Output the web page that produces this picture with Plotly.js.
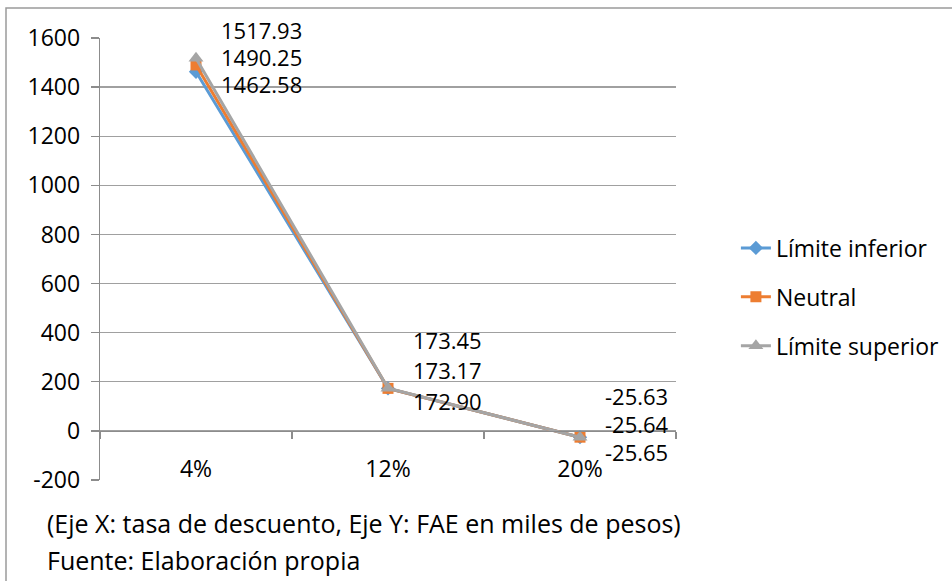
<!DOCTYPE html>
<html>
<head>
<meta charset="utf-8">
<script src="https://cdn.plot.ly/plotly-3.0.1.min.js"></script>
<style>html,body{margin:0;padding:0;background:#fff;}#chart{width:952px;height:581px;}</style>
</head>
<body>
<div id="chart"></div>
<script>
// ---- data ----
const categories = ["4%", "12%", "20%"];
const seriesNames = ["Límite inferior", "Neutral", "Límite superior"];
const limiteInferior = [1462.58, 172.90, -25.65];
const neutral = [1490.25, 173.17, -25.64];
const limiteSuperior = [1517.93, 173.45, -25.63];
const yTickValues = [-200, 0, 200, 400, 600, 800, 1000, 1200, 1400, 1600];
const noteLines = ["(Eje X: tasa de descuento, Eje Y: FAE en miles de pesos)", "Fuente: Elaboración propia"];

// ---- styles ----
const FONT = "'Open Sans', Carlito, Lato, sans-serif";
const FS = 23;
const FS_LABEL = 22;
const FS_NOTE = 25;
const colors = ["#5B9BD5", "#ED7D31", "#A5A5A5"];
const symbols = ["diamond", "square", "triangle-up"];
const msizes = [11, 11, 13];
// label pixel offsets per series per point (vertical)
const labelYShift = [[-12, -13, -15], [8, 18, 13], [28, 48, 41]];
const labelXShift = 24;

const allSeries = [limiteInferior, neutral, limiteSuperior];
const traces = allSeries.map((vals, i) => ({
  type: "scatter", mode: "lines+markers",
  x: categories, y: vals, name: seriesNames[i],
  legendgroup: "g" + i,
  line: {color: colors[i], width: 3},
  marker: {symbol: symbols[i], size: msizes[i], color: colors[i]},
  cliponaxis: false
}));

const annotations = [];
allSeries.forEach((vals, i) => {
  vals.forEach((v, j) => {
    annotations.push({
      x: categories[j], y: v, xref: "x", yref: "y",
      text: v.toFixed(2), showarrow: false,
      xanchor: "left", yanchor: "middle", borderpad: 0,
      xshift: labelXShift, yshift: labelYShift[i][j],
      font: {family: FONT, size: FS_LABEL, color: "#000"}
    });
  });
});
noteLines.forEach((t, k) => {
  annotations.push({
    x: -0.0955, y: k === 0 ? -0.097 : -0.181, xref: "paper", yref: "paper",
    text: t, showarrow: false, xanchor: "left", yanchor: "middle",
    font: {family: FONT, size: FS_NOTE, color: "#000"}
  });
});

const layout = {
  width: 952, height: 581,
  margin: {l: 100, r: 276, t: 38, b: 101, pad: 0, autoexpand: false},
  paper_bgcolor: "#fff", plot_bgcolor: "#fff",
  font: {family: FONT, size: FS, color: "#000"},
  showlegend: true,
  legend: {
    x: 1.104, y: 0.414, xanchor: "left", yanchor: "middle",
    traceorder: "grouped", tracegroupgap: 16,
    font: {family: FONT, size: FS, color: "#000"},
    bgcolor: "rgba(0,0,0,0)"
  },
  xaxis: {
    type: "category", categoryorder: "array", categoryarray: categories,
    range: [-0.5, 2.5], anchor: "free", position: 200 / 1800,
    showline: true, linecolor: "#8c8c8c", linewidth: 1.3,
    ticks: "outside", tickson: "boundaries", ticklen: 7, tickcolor: "#8c8c8c", tickwidth: 1.3,
    showgrid: false, zeroline: false, ticklabelstandoff: 17,
    tickfont: {family: FONT, size: FS, color: "#000"}
  },
  yaxis: {
    range: [-200, 1600], tickvals: yTickValues, ticktext: yTickValues.map(String),
    showline: true, linecolor: "#8c8c8c", linewidth: 1.3,
    ticks: "outside", ticklen: 8, tickcolor: "#8c8c8c", tickwidth: 1.3,
    showgrid: true, gridcolor: "#a0a0a0", gridwidth: 1.3,
    zeroline: false, ticklabelstandoff: 6,
    tickfont: {family: FONT, size: FS, color: "#000"}
  },
  shapes: [{
    type: "rect", xref: "paper", yref: "paper",
    x0: (6 - 100) / 576, x1: (965 - 100) / 576,
    y0: (480 - 595) / 442, y1: (480 - 8) / 442,
    line: {color: "#9a9a9a", width: 1.5}, fillcolor: "rgba(0,0,0,0)", layer: "below"
  }],
  annotations: annotations
};

Plotly.newPlot("chart", traces, layout, {displayModeBar: false, staticPlot: true});
</script>
</body>
</html>
